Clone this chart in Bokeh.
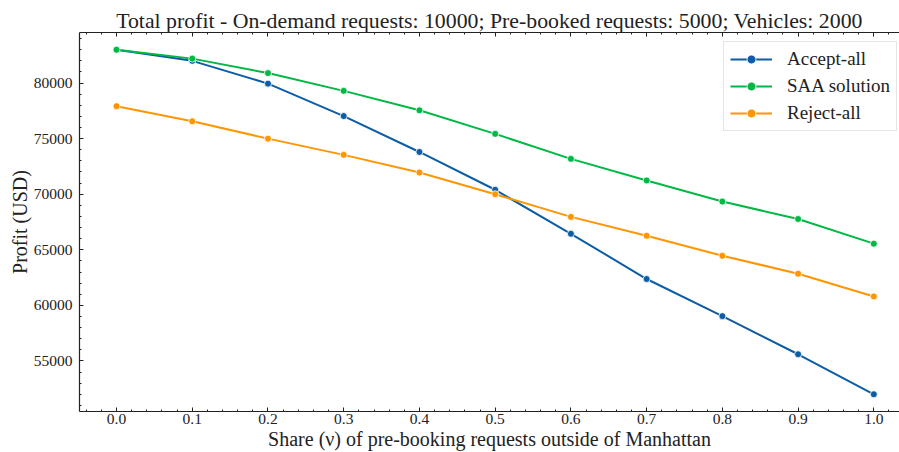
from bokeh.plotting import figure
from bokeh.models import (SingleIntervalTicker, LinearAxis, PrintfTickFormatter,
                          Range1d, Legend, LegendItem, Title, CustomLabelingPolicy)
from bokeh.embed import file_html
from bokeh.resources import INLINE

share = [0.0, 0.1, 0.2, 0.3, 0.4, 0.5, 0.6, 0.7, 0.8, 0.9, 1.0]
accept_all = [83000, 82000, 79950, 77030, 73800, 70400, 66440, 62370, 59030, 55600, 52000]
saa_solution = [83000, 82200, 80900, 79300, 77550, 75430, 73180, 71240, 69340, 67770, 65550]
reject_all = [77920, 76560, 75000, 73540, 71950, 70000, 67960, 66260, 64460, 62850, 60800]

series = [
    ("Accept-all", accept_all, "#0C5DA5"),
    ("SAA solution", saa_solution, "#00B945"),
    ("Reject-all", reject_all, "#FF9500"),
]

title_text = "Total profit - On-demand requests: 10000; Pre-booked requests: 5000; Vehicles: 2000"
FONT = "Liberation Serif"
INK = "#222222"

p = figure(width=899, height=452, output_backend="svg", toolbar_location=None,
           x_range=Range1d(-0.0489, 1.0339), y_range=Range1d(50450, 84550),
           min_border_left=79, min_border_right=0, min_border_top=32, min_border_bottom=41,
           x_axis_type=None, y_axis_type=None)
p.outline_line_color = None
p.background_fill_color = "white"

p.title = Title(text=title_text, align="center", text_font=FONT, text_font_size="21.8px",
                text_font_style="normal", text_color=INK, offset=10, standoff=0)

xt = SingleIntervalTicker(interval=0.1, num_minor_ticks=5)
yt = SingleIntervalTicker(interval=5000, num_minor_ticks=5)


def style_axis(ax):
    ax.axis_line_color = INK
    ax.axis_line_width = 1.2
    ax.major_tick_in = 4
    ax.major_tick_out = 0
    ax.minor_tick_in = 2
    ax.minor_tick_out = 0
    ax.major_tick_line_color = INK
    ax.minor_tick_line_color = INK
    ax.major_label_text_font = FONT
    ax.major_label_text_font_size = "15.5px"
    ax.major_label_text_color = INK
    ax.axis_label_text_font = FONT
    ax.axis_label_text_font_size = "20px"
    ax.axis_label_text_font_style = "normal"
    ax.axis_label_text_color = INK


xaxis = LinearAxis(ticker=xt, formatter=PrintfTickFormatter(format="%.1f"),
                   axis_label="Share (\u03bd) of pre-booking requests outside of Manhattan")
style_axis(xaxis)
xaxis.major_label_standoff = 2
xaxis.axis_label_standoff = 1
p.add_layout(xaxis, "below")

yaxis = LinearAxis(ticker=yt, formatter=PrintfTickFormatter(format="%d"),
                   axis_label="Profit (USD)")
style_axis(yaxis)
yaxis.major_label_standoff = 7
yaxis.axis_label_standoff = 0
p.add_layout(yaxis, "left")

hide_all = CustomLabelingPolicy(code="""
const n = indices.size
for (let i = 0; i < n; i++) { indices.unset(i) }
return indices
""")
top_axis = LinearAxis(ticker=xt, major_label_policy=hide_all)
style_axis(top_axis)
top_axis.major_label_text_font_size = "0px"
top_axis.major_label_standoff = 0
p.add_layout(top_axis, "above")

p.xgrid.ticker = xt
p.ygrid.ticker = yt
for g in (p.xgrid, p.ygrid):
    g.grid_line_color = "#333333"
    g.grid_line_alpha = 0.8
    g.grid_line_width = 0.8
    g.grid_line_dash = "2 2"

items = []
for name, vals, color in series:
    r1 = p.line(share, vals, line_color=color, line_width=2)
    r2 = p.scatter(share, vals, size=7, fill_color=color, line_color="white", line_width=0.8)
    items.append(LegendItem(label=name, renderers=[r1, r2]))

legend = Legend(items=items, location=(644, 280))
legend.label_text_font = FONT
legend.label_text_font_size = "19px"
legend.label_text_color = INK
legend.glyph_width = 42
legend.glyph_height = 22
legend.label_height = 22
legend.label_standoff = 15
legend.spacing = 5
legend.padding = 6
legend.margin = 0
legend.border_line_color = "#cccccc"
legend.border_line_width = 1
legend.background_fill_alpha = 0.85
p.add_layout(legend, "center")

open("out.html", "w").write(file_html(p, INLINE))
